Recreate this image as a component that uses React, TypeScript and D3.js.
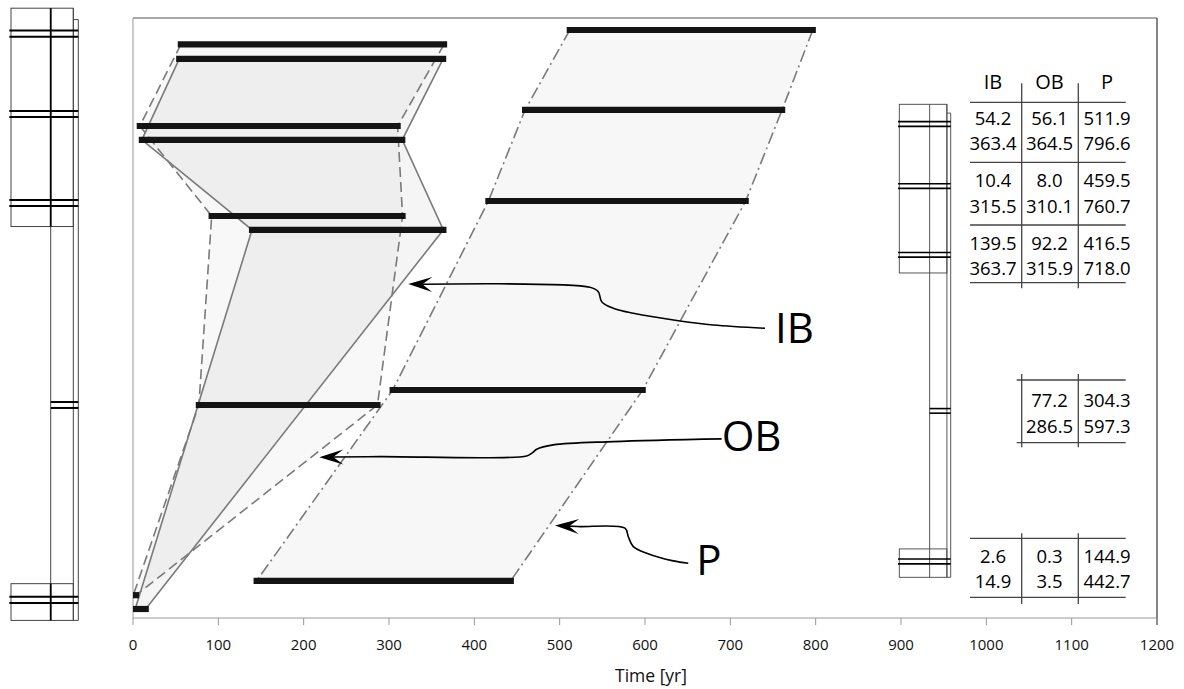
import React from 'react';
import * as d3 from 'd3';

// ---------------- data ----------------
const levelIds = [1, 2, 3, 4, 5];
const seriesNames = ['IB', 'OB', 'P'];
const ibStart = [54.2, 10.4, 139.5, null, 2.6];
const ibEnd = [363.4, 315.5, 363.7, null, 14.9];
const obStart = [56.1, 8.0, 92.2, 77.2, 0.3];
const obEnd = [364.5, 310.1, 315.9, 286.5, 3.5];
const pStart = [511.9, 459.5, 416.5, 304.3, 144.9];
const pEnd = [796.6, 760.7, 718.0, 597.3, 442.7];
// relative vertical position of each bar (0 = bottom of plot, 100 = top)
const ibLevel = [93.2, 79.7, 64.7, null, 1.5];
const obLevel = [95.6, 82.0, 67.0, 35.5, 3.8];
const pLevel = [98.0, 84.7, 69.5, 38.0, 6.2];
const xTicks = [0, 100, 200, 300, 400, 500, 600, 700, 800, 900, 1000, 1100, 1200];

// schematic column (normalised 0..1 geometry)
const schemPairs = [
  [0.0366, 0.0466],
  [0.168, 0.1777],
  [0.3133, 0.3231],
  [0.6433, 0.653],
  [0.9613, 0.9716],
];
const schemPairNarrow = [false, false, false, true, false];

// annotation arrows: tip in data coords (time, level)
const arrowNames = ['IB', 'OB', 'P'];
const arrowTipTime = [322.6, 218.3, 494.5];
const arrowTipLevel = [55.67, 26.8, 15.4];

// ---------------- layout ----------------
const W = 1184;
const H = 689;
const plot = { left: 133, right: 1157, top: 18, bottom: 618 };
const FONT = "'Open Sans', 'Noto Sans', sans-serif";

const arrowCurves: number[][][] = [
  [[181.7, 3.3], [190, 7.7], [193.4, 17.7], [205, 24.3], [225, 29.3], [271.7, 37], [305, 41], [356.7, 44.3]],
  [[60.7, -0.6], [207.4, -1.3], [213.4, -4.6], [217.4, -8], [234, -12.3], [294, -15.6], [402.4, -18.3]],
  [[25, 1], [70, 2.6], [73.3, 11], [78.3, 21], [91.7, 27.6], [118.3, 35.3], [133.3, 37.6]],
];
const arrowLabelOffset = [[10, 15], [0, 12.5], [8, 12]];

const tableCols = [993, 1049.5, 1107];
const tableSep = [1021.7, 1078.3];
const tableRowCenters = [
  [118.3, 143.3],
  [180.7, 206.7],
  [243.3, 268.3],
  [400.7, 426],
  [556.7, 581.7],
];
const tableHLines = [
  { y: 102.3, x1: 970, x2: 1125.7 },
  { y: 162.3, x1: 970, x2: 1125.7 },
  { y: 225, x1: 970, x2: 1125.7 },
  { y: 282.7, x1: 970, x2: 1125.7 },
  { y: 380, x1: 1016.7, x2: 1125.7 },
  { y: 442.7, x1: 1016.7, x2: 1125.7 },
  { y: 538.3, x1: 970, x2: 1125.7 },
  { y: 597.3, x1: 970, x2: 1125.7 },
];
const tableVSpans = [
  [83.3, 288.3],
  [374, 447.3],
  [533.3, 604],
];

function Schematic({ x0, y0, w, h, pairW, lw, boldStem }: any) {
  const sx = d3.scaleLinear().domain([0, 1]).range([x0, x0 + w]);
  const sy = d3.scaleLinear().domain([0, 1]).range([y0, y0 + h]);
  const rectR = 0.926;
  const stemL = 0.59;
  const stripTop = 0.0186;
  const topB = 0.3566;
  const botT = 0.94;
  const c = '#444';
  return (
    <g>
      <rect x={sx(0)} y={sy(0)} width={sx(rectR) - sx(0)} height={sy(topB) - sy(0)} fill="none" stroke={c} strokeWidth={lw} />
      <rect x={sx(0)} y={sy(botT)} width={sx(rectR) - sx(0)} height={sy(1) - sy(botT)} fill="none" stroke={c} strokeWidth={lw} />
      <line x1={sx(stemL)} x2={sx(stemL)} y1={sy(0)} y2={sy(1)} stroke={c} strokeWidth={lw} />
      {boldStem && (
        <g>
          <line x1={sx(stemL)} x2={sx(stemL)} y1={sy(0)} y2={sy(topB)} stroke="#000" strokeWidth={lw * 1.8} />
          <line x1={sx(stemL)} x2={sx(stemL)} y1={sy(botT)} y2={sy(1)} stroke="#000" strokeWidth={lw * 1.8} />
        </g>
      )}
      <line x1={sx(rectR)} x2={sx(rectR)} y1={sy(0)} y2={sy(1)} stroke={c} strokeWidth={lw} />
      <polyline
        points={`${sx(rectR)},${sy(stripTop)} ${sx(1)},${sy(stripTop)} ${sx(1)},${sy(1)} ${sx(rectR)},${sy(1)}`}
        fill="none"
        stroke={c}
        strokeWidth={lw}
      />
      {schemPairs.map((p, i) =>
        p.map((v, j) => (
          <line
            key={`${i}-${j}`}
            x1={sx(schemPairNarrow[i] ? stemL : -0.025)}
            x2={sx(1)}
            y1={sy(v)}
            y2={sy(v)}
            stroke="#000"
            strokeWidth={pairW}
          />
        ))
      )}
    </g>
  );
}

export default function App() {
  const x = d3.scaleLinear().domain([0, 1200]).range([plot.left, plot.right]);
  const y = d3.scaleLinear().domain([0, 100]).range([plot.bottom, plot.top]);

  const series = [
    { name: 'P', start: pStart, end: pEnd, level: pLevel, fill: 'rgba(0,0,0,0.03)', dash: '12,4,2,4' },
    { name: 'OB', start: obStart, end: obEnd, level: obLevel, fill: 'rgba(0,0,0,0.028)', dash: '10,5' },
    { name: 'IB', start: ibStart, end: ibEnd, level: ibLevel, fill: 'rgba(0,0,0,0.04)', dash: undefined },
  ];
  const line = d3.line();

  const shapes = series.map((s) => {
    const idx = levelIds.map((_, i) => i).filter((i) => s.start[i] != null);
    const left: [number, number][] = idx.map((i) => [x(s.start[i] as number), y(s.level[i] as number)]);
    const right: [number, number][] = idx.map((i) => [x(s.end[i] as number), y(s.level[i] as number)]);
    const poly = line([...left, ...right.slice().reverse()]) + 'Z';
    return { s, idx, left, right, poly };
  });

  const curve = d3.line().curve(d3.curveCatmullRom.alpha(0.5));

  const tableValues = levelIds.map((_, i) => [
    [ibStart[i], ibEnd[i]],
    [obStart[i], obEnd[i]],
    [pStart[i], pEnd[i]],
  ]);

  return (
    <svg
      width={W}
      height={H}
      style={{ position: 'absolute', left: 0, top: 0, background: '#fff' }}
      fontFamily={FONT}
    >
      <defs>
        <clipPath id="plotClip">
          <rect x={plot.left} y={plot.top} width={plot.right - plot.left} height={plot.bottom - plot.top} />
        </clipPath>
      </defs>
      <rect x={0} y={0} width={W} height={H} fill="#fff" />

      {/* schematics */}
      <Schematic x0={11} y0={8.2} w={67.3} h={612.2} pairW={2} lw={1} boldStem={true} />
      <Schematic x0={899.3} y0={104.3} w={51.4} h={473} pairW={1.6} lw={0.9} boldStem={false} />

      {/* frame */}
      <line x1={plot.left} x2={plot.right} y1={plot.top} y2={plot.top} stroke="#555" strokeWidth={1} />
      <line x1={plot.right} x2={plot.right} y1={plot.top} y2={plot.bottom + 7} stroke="#333" strokeWidth={1.2} />
      <line x1={plot.left} x2={plot.left} y1={plot.top} y2={plot.bottom} stroke="#999" strokeWidth={1} />

      <g clipPath="url(#plotClip)">
        {shapes.map(({ s, poly }) => (
          <path key={s.name + 'f'} d={poly} fill={s.fill} stroke="none" />
        ))}
        {shapes.map(({ s, left, right }) => (
          <g key={s.name + 'e'}>
            <path d={line(left) as string} fill="none" stroke="#7a7a7a" strokeWidth={1.6} strokeDasharray={s.dash} />
            <path d={line(right) as string} fill="none" stroke="#7a7a7a" strokeWidth={1.6} strokeDasharray={s.dash} />
          </g>
        ))}
        {shapes.map(({ s, idx }) =>
          idx.map((i) => (
            <line
              key={s.name + i}
              x1={x(s.start[i] as number)}
              x2={x(s.end[i] as number)}
              y1={y(s.level[i] as number)}
              y2={y(s.level[i] as number)}
              stroke="#141414"
              strokeWidth={6.2}
              strokeLinecap="square"
            />
          ))
        )}
      </g>

      {/* x axis */}
      <line x1={plot.left} x2={plot.right} y1={plot.bottom} y2={plot.bottom} stroke="#999" strokeWidth={1.2} />
      {xTicks.map((t) => (
        <g key={t}>
          <line x1={x(t)} x2={x(t)} y1={plot.bottom} y2={plot.bottom + 7} stroke="#999" strokeWidth={1} />
          <text x={x(t)} y={650} textAnchor="middle" fontSize={15} fill="#111">
            {t}
          </text>
        </g>
      ))}
      <text x={651} y={682} textAnchor="middle" fontSize={17.5} fill="#111">
        Time [yr]
      </text>

      {/* annotation arrows */}
      {arrowNames.map((n, k) => {
        const tip: [number, number] = [x(arrowTipTime[k]), y(arrowTipLevel[k])];
        const pts: [number, number][] = arrowCurves[k].map((o) => [tip[0] + o[0], tip[1] + o[1]]);
        const first = pts[0];
        const ang = Math.atan2(tip[1] - first[1], tip[0] - first[0]);
        const L = 24;
        const hw = 7.5;
        const notch = 14;
        const ux = Math.cos(ang);
        const uy = Math.sin(ang);
        const px = -uy;
        const py = ux;
        const back = [tip[0] - ux * L, tip[1] - uy * L];
        const nt: [number, number] = [tip[0] - ux * notch, tip[1] - uy * notch];
        const head = `M${tip[0]},${tip[1]} L${back[0] + px * hw},${back[1] + py * hw} L${nt[0]},${nt[1]} L${back[0] - px * hw},${back[1] - py * hw} Z`;
        const end = pts[pts.length - 1];
        return (
          <g key={n}>
            <path d={curve([nt, ...pts]) as string} fill="none" stroke="#000" strokeWidth={1.6} />
            <path d={head} fill="#000" />
            <text x={end[0] + arrowLabelOffset[k][0]} y={end[1] + arrowLabelOffset[k][1]} fontSize={42} fill="#000">
              {n}
            </text>
          </g>
        );
      })}

      {/* table */}
      {seriesNames.map((n, j) => (
        <text key={n} x={tableCols[j]} y={88.8} textAnchor="middle" fontSize={20} fill="#000">
          {n}
        </text>
      ))}
      {tableHLines.map((l, i) => (
        <line key={'h' + i} x1={l.x1} x2={l.x2} y1={l.y} y2={l.y} stroke="#444" strokeWidth={1.3} />
      ))}
      {tableVSpans.map((sp, i) =>
        tableSep.map((sx, j) => (
          <line key={'v' + i + j} x1={sx} x2={sx} y1={sp[0]} y2={sp[1]} stroke="#444" strokeWidth={1.3} />
        ))
      )}
      {tableValues.map((row, i) =>
        row.map((pair, j) =>
          pair[0] == null
            ? null
            : pair.map((v, r) => (
                <text
                  key={`${i}-${j}-${r}`}
                  x={tableCols[j]}
                  y={tableRowCenters[i][r] + 6.6}
                  textAnchor="middle"
                  fontSize={18.5}
                  fill="#000"
                >
                  {(v as number).toFixed(1)}
                </text>
              ))
        )
      )}
    </svg>
  );
}
